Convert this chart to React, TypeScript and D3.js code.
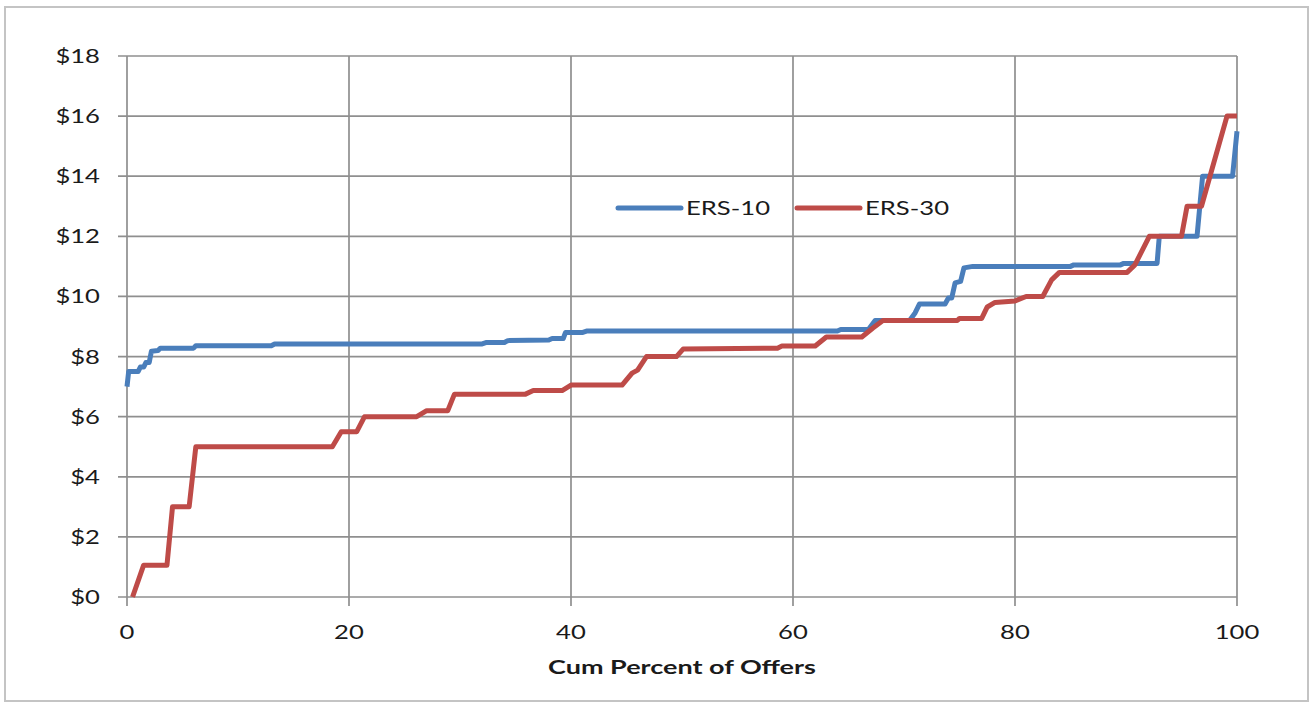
import React from "react";
import * as d3 from "d3";

const W = 1314;
const H = 705;

const yTicks = [0, 2, 4, 6, 8, 10, 12, 14, 16, 18];
const xTicks = [0, 20, 40, 60, 80, 100];
const xTitle = "Cum Percent of Offers";
const seriesNames = ["ERS-10", "ERS-30"];
const seriesColors = ["#4A7EBB", "#BE4B48"];

const ers10: [number, number][] = [
  [0, 7.0], [0.15, 7.5], [1.0, 7.5], [1.2, 7.65], [1.5, 7.65], [1.7, 7.8], [2.0, 7.8], [2.2, 8.18],
  [2.8, 8.2], [3.0, 8.28], [6.0, 8.28], [6.2, 8.36], [13, 8.36], [13.3, 8.42], [32, 8.42],
  [32.4, 8.47], [34, 8.47], [34.3, 8.53], [38, 8.55], [38.3, 8.6], [39.3, 8.6], [39.5, 8.8],
  [41, 8.8], [41.4, 8.85], [64, 8.85], [64.3, 8.9], [66.8, 8.9], [67.4, 9.2], [70.5, 9.2],
  [71.0, 9.45], [71.4, 9.75], [73.7, 9.75], [74.0, 9.95], [74.3, 9.95], [74.6, 10.45],
  [75.1, 10.5], [75.4, 10.95], [76.2, 11.0], [85, 11.0], [85.3, 11.05], [89.5, 11.05],
  [89.8, 11.1], [92.8, 11.1], [93.0, 12.0], [96.4, 12.0], [96.9, 14.0], [99.6, 14.0], [100, 15.5],
];

const ers30: [number, number][] = [
  [0.5, 0], [1.5, 1.06], [3.6, 1.06], [4.1, 3.0], [5.6, 3.0], [6.2, 5.0], [18.5, 5.0],
  [19.3, 5.5], [20.7, 5.5], [21.4, 6.0], [26.1, 6.0], [27, 6.2], [28.9, 6.2], [29.5, 6.75],
  [35.9, 6.75], [36.6, 6.87], [39.2, 6.87], [40, 7.05], [44.6, 7.05], [45.5, 7.45], [46, 7.55],
  [46.8, 8.0], [49.5, 8.0], [50.1, 8.25], [58.6, 8.28], [59, 8.35], [62, 8.35], [63, 8.65],
  [66.2, 8.65], [67.2, 8.95], [68.1, 9.2], [74.8, 9.2], [75, 9.27], [77, 9.27], [77.5, 9.65],
  [78.2, 9.8], [80, 9.85], [81, 10.0], [82.5, 10.0], [83.3, 10.55], [84, 10.8], [90.1, 10.8],
  [90.8, 11.05], [92.1, 12.0], [95, 12.0], [95.5, 13.0], [96.8, 13.0], [99.1, 16.0], [100, 16.0],
];

const SX = 1.35;
const FONT = "Lato, 'Open Sans', sans-serif";

function T(props: { x: number; y: number; anchor: string; size: number; bold?: boolean; sx?: number; children: React.ReactNode }) {
  return (
    <text
      transform={`translate(${props.x},${props.y}) scale(${props.sx ?? SX},1)`}
      textAnchor={props.anchor}
      fontSize={props.size}
      fontWeight={props.bold ? 700 : 400}
      fontFamily={FONT}
      fill="#1a1a1a"
    >
      {props.children}
    </text>
  );
}

export default function App() {
  const x = d3.scaleLinear().domain([0, 100]).range([127, 1237]);
  const y = d3.scaleLinear().domain([0, 18]).range([597, 56]);
  const line = d3
    .line<[number, number]>()
    .x((d) => x(d[0]))
    .y((d) => y(d[1]));
  const series = [ers10, ers30];
  const grid = "#8f8f8f";

  return (
    <svg width={W} height={H} style={{ position: "absolute", left: 0, top: 0, background: "#fff" }}>
      <rect x={5} y={7} width={1303} height={694} fill="#fff" stroke="#c4c4c4" strokeWidth={2} />
      {yTicks.map((t) => (
        <line key={"gy" + t} x1={118} x2={x(100)} y1={y(t)} y2={y(t)} stroke={grid} strokeWidth={1.7} />
      ))}
      {xTicks.map((t) => (
        <line key={"gx" + t} x1={x(t)} x2={x(t)} y1={y(18)} y2={y(0) + 9} stroke={grid} strokeWidth={1.7} />
      ))}
      {yTicks.map((t) => (
        <T key={"ly" + t} x={100} y={y(t) + 7} anchor="end" size={19}>
          {"$" + t}
        </T>
      ))}
      {xTicks.map((t) => (
        <T key={"lx" + t} x={x(t)} y={639} anchor="middle" size={19}>
          {String(t)}
        </T>
      ))}
      <T x={682} y={674} anchor="middle" size={19} sx={1.42} bold>
        {xTitle}
      </T>
      {series.map((s, i) => (
        <path
          key={"s" + i}
          d={line(s) || ""}
          fill="none"
          stroke={seriesColors[i]}
          strokeWidth={5}
          strokeLinejoin="round"
        />
      ))}
      {seriesNames.map((n, i) => {
        const lx = [618, 797][i];
        return (
          <g key={"lg" + i}>
            <line x1={lx} x2={lx + 63} y1={208} y2={208} stroke={seriesColors[i]} strokeWidth={5} strokeLinecap="round" />
            <T x={lx + 68} y={215} anchor="start" size={19}>
              {n}
            </T>
          </g>
        );
      })}
    </svg>
  );
}
